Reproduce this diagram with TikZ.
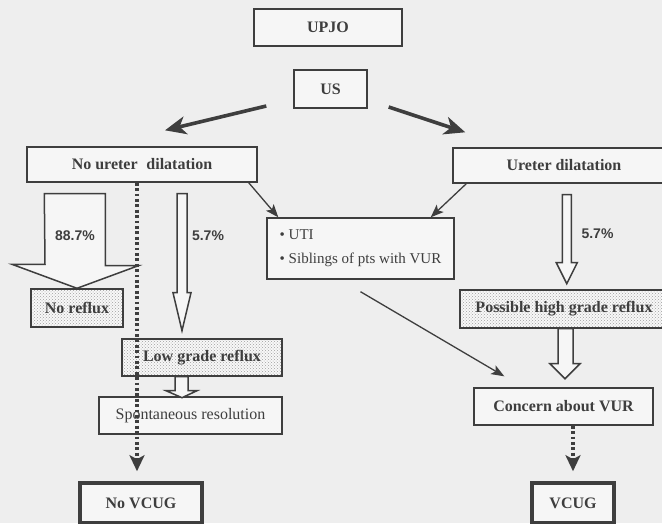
\documentclass[tikz,border=0pt]{standalone}
\usepackage{fontspec}
\setmainfont{Liberation Serif}
\newfontfamily\pctfont{Liberation Sans}
\usetikzlibrary{arrows.meta,patterns}
\definecolor{inkgray}{RGB}{62,62,62}
\definecolor{paper}{RGB}{238,238,238}
\tikzset{
  BoxStyle/.style = { rectangle, draw=inkgray, line width=1.4pt,
                      fill=white!45!paper, text=inkgray, inner sep=0pt,
                      font = \fontsize{16}{18}\selectfont\bfseries },
  DotBoxStyle/.style = { BoxStyle, preaction={fill=white!60!paper},
                         pattern=crosshatch dots, pattern color=gray!75 },
  EndBoxStyle/.style = { BoxStyle, line width=3.6pt },
  LabelStyle/.style = { text=inkgray, font = \pctfont\fontsize{14}{16}\selectfont\bfseries },
  BlockStyle/.style = { draw=inkgray, line width=1.5pt, fill=white!45!paper, line join=miter },
  BigEdge/.style = { draw=inkgray, line width=3.6pt, -{Stealth[length=21pt,width=18pt,inset=6pt]} },
  EdgeStyle/.style = { draw=inkgray, line width=1.3pt, -{Stealth[length=13pt,width=10pt,inset=3pt]} },
  DotEdge/.style = { draw=inkgray, line width=3.2pt, dash pattern=on 2.8pt off 2.6pt,
                     -{Stealth[length=16pt,width=15pt,inset=4pt]} } }
\begin{document}
\begin{tikzpicture}[x=1pt,y=-1pt]
  \fill[paper] (0,0) rectangle (662,523);
  \clip (0,0) rectangle (662,523);
  \node[BoxStyle, minimum width=148pt, minimum height=37pt](UPJO) at (328,27.5){UPJO};
  \node[BoxStyle, minimum width=73pt, minimum height=38pt](US) at (330.5,89){US};
  \node[BoxStyle, minimum width=230pt, minimum height=35pt](NODIL) at (142,164.5){No ureter\hspace{0.55em}dilatation};
  \node[BoxStyle, minimum width=222pt, minimum height=35pt](DIL) at (564,165.5){Ureter dilatation};
  \node[BoxStyle, minimum width=187pt, minimum height=61pt, align=left,
        font=\fontsize{15}{24}\selectfont](UTI) at (360.5,248.5){\textbullet\ UTI\\ \textbullet\ Siblings of pts with VUR};
  \node[DotBoxStyle, minimum width=92pt, minimum height=38pt](NOREFLUX) at (77,308){No reflux};
  \node[DotBoxStyle, minimum width=160pt, minimum height=37pt](LOWREFLUX) at (202,357.5){Low grade reflux};
  \node[BoxStyle, minimum width=183pt, minimum height=37pt, font=\fontsize{16}{18}\selectfont](SPONT) at (190.5,415.5){Spontaneous resolution};
  \node[DotBoxStyle, minimum width=208pt, minimum height=38pt](HIGHREFLUX) at (564,309){Possible high grade reflux};
  \node[BoxStyle, minimum width=179pt, minimum height=37pt](CONCERN) at (563.5,406.5){Concern about VUR};
  \node[EndBoxStyle, minimum width=122pt, minimum height=40pt](NOVCUG) at (141,503){No VCUG};
  \node[EndBoxStyle, minimum width=82pt, minimum height=40pt](VCUG) at (573,503){VCUG};

  \draw[BigEdge] ([xshift=-27pt,yshift=-17pt]US.west) -- ([xshift=23pt,yshift=16pt]NODIL.north);
  \draw[BigEdge] ([xshift=21pt,yshift=-18pt]US.east) -- ([xshift=13pt,yshift=15pt]DIL.north west);
  \draw[EdgeStyle] ([xshift=-9pt]NODIL.south east) -- ([xshift=12pt]UTI.north west);
  \draw[EdgeStyle] ([xshift=14pt]DIL.south west) -- ([xshift=-24pt]UTI.north east);
  \draw[EdgeStyle] ([yshift=-12pt]UTI.south) -- ([xshift=31pt,yshift=11pt]CONCERN.north west);

  \draw[BlockStyle] (NODIL.south west) ++(18,11) -- ++(61,0) -- ++(0,72) -- ++(33,0)
    -- (NOREFLUX.north) -- ++(-65,-24) -- ++(33,0) -- cycle;
  \draw[BlockStyle] (NODIL.south) ++(35,11) -- ++(10,0) -- ++(0,99) -- ++(4,0)
    -- ++(-9,38) -- ++(-9,-38) -- ++(4,0) -- cycle;
  \draw[BlockStyle] (DIL.south west) ++(110,11) -- ++(9,0) -- ++(0,68) -- ++(6,0)
    -- ++(-10.5,21) -- ++(-10.5,-21) -- ++(6,0) -- cycle;
  \draw[BlockStyle] (HIGHREFLUX.south) ++(-6,0) -- ++(15,0) -- ++(0,35) -- ++(7,0)
    -- ++(-15,15) -- ++(-15,-15) -- ++(8,0) -- cycle;
  \draw[BlockStyle] (LOWREFLUX.south) ++(-27,0) -- ++(13,0) -- ++(0,14) -- ++(9,0)
    -- ++(-15,7) -- ++(-16,-7) -- ++(9,0) -- cycle;

  \node[LabelStyle](PCTNO) at (75,236){88.7\%};
  \node[LabelStyle](PCTLOW) at (208,236){5.7\%};
  \node[LabelStyle](PCTHIGH) at (597.5,234){5.7\%};

  \draw[DotEdge] ([xshift=-4pt]NOVCUG.north |- NODIL.south) -- ([xshift=-4pt,yshift=10pt]NOVCUG.north);
  \draw[DotEdge] (CONCERN.south -| VCUG.north) -- ([yshift=10pt]VCUG.north);
\end{tikzpicture}
\end{document}
